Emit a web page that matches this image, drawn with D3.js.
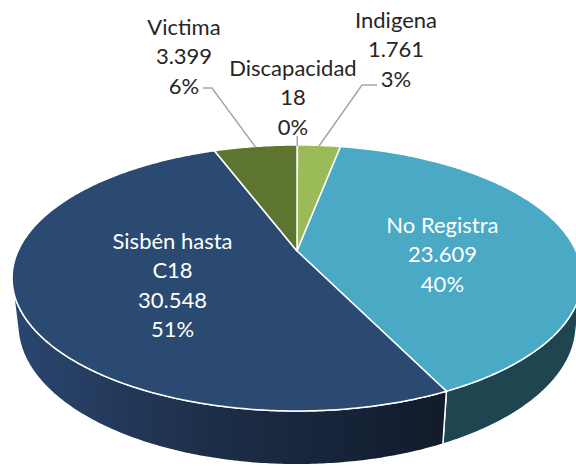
<!DOCTYPE html>
<html>
<head>
<meta charset="utf-8">
<script src="https://cdn.jsdelivr.net/npm/d3@7"></script>
<style>
  html, body { margin: 0; padding: 0; background: #fff; }
  svg { display: block; }
  text { font-family: Lato, "Open Sans", sans-serif; }
</style>
</head>
<body>
<svg id="pie3d"></svg>
<script>
// data, in the original (alphabetical) order, clockwise from 12 o'clock
const categories = ["Discapacidad", "Indigena", "No Registra", "Sisbén hasta C18", "Victima"];
const labelLines = [["Discapacidad"], ["Indigena"], ["No Registra"], ["Sisbén hasta", "C18"], ["Victima"]];
const values = [18, 1761, 23609, 30548, 3399];

const topColors  = ["#7f9a46", "#9bbb59", "#4aa9c4", "#2a4a72", "#5e7530"];
const sideColors = ["#4f6128", "#5d7236", "#1f4650", "url(#sisbenSide)", "#3b4a1f"];

const width = 576, height = 474;

// fake 3d: perspective projection of a tilted disc
const cx = 297, cy = 251, k = 279;
const sinA = 0.457, cosA = 0.889, camDist = 4.38, depth = 0.19;

function project(theta, r, y) {
  const X = r * Math.sin(theta), Z = -r * Math.cos(theta);
  const d = y * sinA + Z * cosA, s = y * cosA - Z * sinA;
  const f = camDist / (camDist - d);
  return [cx + k * X * f, cy - k * s * f];
}

function arcPoints(a0, a1, y) {
  const n = Math.max(2, Math.ceil((a1 - a0) / 0.01));
  return d3.range(n + 1).map(i => project(a0 + (a1 - a0) * i / n, 1, y));
}

const fmt = d3.formatLocale({ decimal: ",", thousands: ".", grouping: [3], currency: ["$", ""] }).format(",");
const total = d3.sum(values);

const pie = d3.pie().sort(null).value(d => d)(values);

const svg = d3.select("#pie3d")
  .attr("width", width)
  .attr("height", height);

const grad = svg.append("defs").append("linearGradient")
  .attr("id", "sisbenSide")
  .attr("gradientUnits", "userSpaceOnUse")
  .attr("x1", 15).attr("y1", 0).attr("x2", 445).attr("y2", 0);
grad.append("stop").attr("offset", 0).attr("stop-color", "#2a4670");
grad.append("stop").attr("offset", 0.45).attr("stop-color", "#1d2e48");
grad.append("stop").attr("offset", 1).attr("stop-color", "#111b2b");

const line = d3.line();

// visible part of the rim (outer wall faces the camera)
const rimLo = Math.acos(-1 / (camDist * cosA));
const rimHi = 2 * Math.PI - rimLo;

const sides = svg.append("g");
pie.forEach((p, i) => {
  const a0 = Math.max(p.startAngle, rimLo), a1 = Math.min(p.endAngle, rimHi);
  if (a1 <= a0) return;
  const pts = arcPoints(a0, a1, 0).concat(arcPoints(a0, a1, -depth).reverse());
  sides.append("path")
    .attr("d", line(pts) + "Z")
    .attr("fill", sideColors[i])
    .attr("stroke", "#fff")
    .attr("stroke-width", 1.5)
    .attr("stroke-linejoin", "round");
});

const tops = svg.append("g");
pie.forEach((p, i) => {
  const pts = [project(0, 0, 0)].concat(arcPoints(p.startAngle, p.endAngle, 0));
  tops.append("path")
    .attr("d", line(pts) + "Z")
    .attr("fill", topColors[i])
    .attr("stroke", "#fff")
    .attr("stroke-width", 1.5)
    .attr("stroke-linejoin", "round");
});

// labels
const fontSize = 22, lineH = 29.5;
function labelText(i) {
  const pct = Math.round(values[i] / total * 100) + "%";
  return labelLines[i].concat([fmt(values[i]), pct]);
}

function drawLabel(i, x, yTop, color) {
  const t = svg.append("text")
    .attr("text-anchor", "middle")
    .attr("font-size", fontSize)
    .attr("fill", color);
  labelText(i).forEach((s, j) => {
    t.append("tspan")
      .attr("x", x)
      .attr("y", yTop + j * lineH)
      .attr("dy", "0.35em")
      .text(s);
  });
}

// inside labels, placed on the projected slice middle
[{ i: 2, dx: 9, dy: 12 }, { i: 3, dx: 9, dy: 8 }].forEach(o => {
  const mid = (pie[o.i].startAngle + pie[o.i].endAngle) / 2;
  const [x, y] = project(mid, 0.5, 0);
  const n = labelText(o.i).length;
  drawLabel(o.i, x + o.dx, y + o.dy - (n - 1) * lineH / 2, "#fff");
});

// outside labels with leader lines
const outside = [
  { i: 0, x: 293, y: 68, elbow: null },
  { i: 1, x: 396, y: 20, elbow: [[377, 85], [362, 85]] },
  { i: 4, x: 184, y: 27, elbow: [[203, 88], [212, 88]] }
];
const leaders = svg.append("g")
  .attr("fill", "none")
  .attr("stroke", "#a6a6a6")
  .attr("stroke-width", 1.5);
outside.forEach(o => {
  const mid = (pie[o.i].startAngle + pie[o.i].endAngle) / 2;
  const end = project(mid, 0.99, 0);
  const pts = o.elbow ? o.elbow.concat([end]) : [[end[0], 136], end];
  leaders.append("path").attr("d", line(pts));
  drawLabel(o.i, o.x, o.y, "#262626");
});
</script>
</body>
</html>
